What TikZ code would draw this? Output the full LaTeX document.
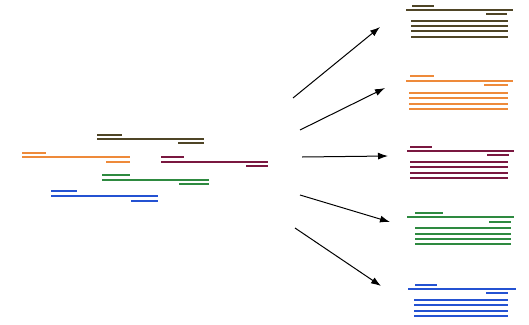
\documentclass[tikz,border=0pt]{standalone}
\usetikzlibrary{arrows.meta}
\definecolor{cOlive}{HTML}{4F4526}
\definecolor{cOrange}{HTML}{EE8A3A}
\definecolor{cMaroon}{HTML}{7A1840}
\definecolor{cGreen}{HTML}{2E8A40}
\definecolor{cBlue}{HTML}{2452D2}
\tikzset{
  seg/.style={line width=2.9pt, draw=#1},
  arr/.style={line width=1pt, -{Latex[length=10pt,width=7pt]}}
}
\begin{document}
\begin{tikzpicture}[x=1pt,y=-1pt]
\useasboundingbox (0,0) rectangle (529,324);
% left cluster
\draw[seg=cOlive] (97,135)--(122,135) (97,139)--(204,139) (178,143)--(204,143);
\draw[seg=cOrange] (22,153)--(46,153) (22,157)--(130,157) (106,162)--(130,162);
\draw[seg=cMaroon] (161,157)--(184,157) (161,162)--(268,162) (246,166)--(268,166);
\draw[seg=cGreen] (102,175)--(130,175) (102,180)--(209,180) (179,184)--(209,184);
\draw[seg=cBlue] (51,191)--(77,191) (51,196)--(158,196) (131,201)--(158,201);
% right groups
\draw[seg=cOlive] (412,6)--(434,6) (406,10)--(513,10) (486,14)--(507,14)
  (411,21)--(508,21) (411,26)--(508,26) (411,31)--(508,31) (411,37)--(508,37);
\draw[seg=cOrange] (410,76)--(434,76) (406,81)--(513,81) (484,85)--(508,85)
  (409,93)--(508,93) (409,98)--(508,98) (409,104)--(508,104) (409,109)--(508,109);
\draw[seg=cMaroon] (410,147)--(432,147) (407,151)--(514,151) (487,155)--(509,155)
  (410,162)--(508,162) (410,167)--(508,167) (410,173)--(508,173) (410,178)--(508,178);
\draw[seg=cGreen] (415,213)--(443,213) (407,217)--(514,217) (489,222)--(511,222)
  (415,228)--(511,228) (415,234)--(511,234) (415,239)--(511,239) (415,244)--(511,244);
\draw[seg=cBlue] (415,285)--(437,285) (408,289)--(516,289) (486,293)--(508,293)
  (414,300)--(508,300) (414,305)--(508,305) (414,311)--(508,311) (414,316)--(508,316);
% arrows
\coordinate (s1) at (293,98);  \coordinate (e1) at (380,27);
\coordinate (s2) at (300,130); \coordinate (e2) at (385,88);
\coordinate (s3) at (302,157); \coordinate (e3) at (388,156);
\coordinate (s4) at (300,195); \coordinate (e4) at (390,222);
\coordinate (s5) at (295,228); \coordinate (e5) at (381,286);
\draw[arr] (s1)--(e1);
\draw[arr] (s2)--(e2);
\draw[arr] (s3)--(e3);
\draw[arr] (s4)--(e4);
\draw[arr] (s5)--(e5);
\end{tikzpicture}
\end{document}
